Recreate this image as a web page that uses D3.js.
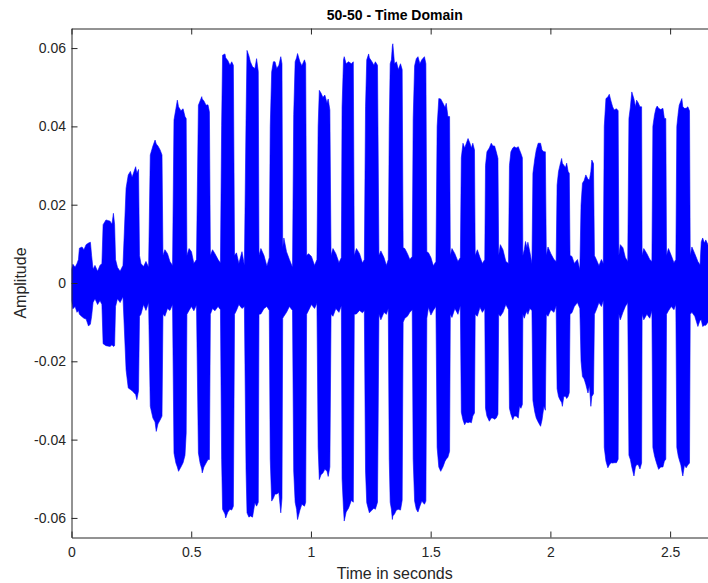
<!DOCTYPE html>
<html>
<head>
<meta charset="utf-8">
<script src="https://cdn.jsdelivr.net/npm/d3@7"></script>
<style>
  html, body { margin: 0; padding: 0; background: #fff; }
  svg { display: block; }
  text { font-family: "Liberation Sans", Arial, Helvetica, sans-serif; }
</style>
</head>
<body>
<svg id="chart" width="708" height="583"></svg>
<script>
// Envelope of the recorded signal: time (s), upper and lower amplitude at each breakpoint
const time = [
  0.000,0.006,0.015,0.023,0.029,0.033,0.044,0.052,0.061,0.071,0.079,0.084,0.090,0.098,0.109,0.119,0.127,
  0.132,0.144,0.161,0.169,0.175,0.180,0.184,0.192,0.203,0.215,
  0.228,0.237,0.246,0.253,0.268,0.273,0.280,0.284,0.290,0.301,0.311,0.322,
  0.329,0.340,0.349,0.354,0.361,0.370,0.378,0.382,0.390,0.401,0.411,0.422,
  0.428,0.436,0.442,0.447,0.457,0.466,0.474,0.479,0.482,0.491,0.501,0.511,0.522,
  0.530,0.537,0.544,0.546,0.553,0.562,0.570,0.576,0.580,0.589,0.599,0.612,0.622,
  0.627,0.631,0.641,0.644,0.653,0.662,0.669,0.676,0.681,0.689,0.699,0.712,0.722,
  0.729,0.733,0.741,0.747,0.756,0.766,0.773,0.780,0.783,0.791,0.804,0.816,0.826,
  0.830,0.836,0.843,0.850,0.857,0.866,0.874,0.879,0.882,0.887,0.898,0.910,0.923,
  0.928,0.934,0.940,0.944,0.954,0.962,0.973,0.978,0.982,0.990,1.002,1.015,1.025,
  1.030,1.035,1.042,1.050,1.058,1.067,1.072,1.079,1.084,1.092,1.104,1.117,1.127,
  1.130,1.136,1.139,1.147,1.157,1.169,1.177,1.181,1.190,1.203,1.215,1.223,
  1.228,1.233,1.241,1.244,1.255,1.263,1.269,1.278,1.284,1.292,1.305,1.315,1.323,
  1.327,1.331,1.336,1.340,1.342,1.349,1.357,1.365,1.374,1.381,1.385,1.392,1.403,1.413,1.423,
  1.427,1.433,1.440,1.447,1.455,1.463,1.474,1.480,1.484,1.491,1.501,1.511,1.522,
  1.527,1.534,1.542,1.551,1.560,1.565,1.572,1.579,1.582,1.589,1.601,1.614,1.624,
  1.628,1.635,1.642,1.648,1.656,1.664,1.670,1.676,1.683,1.686,1.695,1.706,1.716,1.726,
  1.729,1.735,1.745,1.753,1.760,1.767,1.774,1.781,1.784,1.791,1.802,1.814,1.825,
  1.829,1.835,1.843,1.849,1.857,1.866,1.871,1.877,1.883,1.885,1.891,1.896,1.902,1.906,1.914,1.923,
  1.927,1.935,1.941,1.949,1.959,1.965,1.973,1.979,1.983,1.990,2.002,2.015,2.024,
  2.028,2.034,2.040,2.047,2.050,2.056,2.063,2.068,2.074,2.079,2.082,2.090,2.100,2.113,2.123,
  2.128,2.134,2.141,2.148,2.157,2.163,2.169,2.173,2.180,2.184,2.192,2.203,2.213,2.221,
  2.225,2.232,2.240,2.246,2.253,2.260,2.266,2.276,2.283,2.286,2.292,2.303,2.313,2.323,
  2.328,2.334,2.340,2.349,2.355,2.360,2.367,2.374,2.381,2.383,2.390,2.403,2.415,2.424,
  2.428,2.435,2.441,2.446,2.452,2.461,2.470,2.476,2.482,2.485,2.493,2.505,2.516,2.524,
  2.528,2.534,2.538,2.545,2.549,2.553,2.560,2.567,2.574,2.581,2.584,2.591,2.603,2.616,2.625,
  2.630,2.636,2.643,2.649,2.658,2.668
];
const upper = [
  0.0035,0.0048,0.0040,0.0050,0.0060,0.0089,0.0092,0.0085,0.0098,0.0102,0.0104,0.0070,0.0035,0.0045,0.0030,0.0045,0.0050,
  0.0149,0.0161,0.0158,0.0150,0.0178,0.0150,0.0060,0.0040,0.0030,0.0045,
  0.0242,0.0276,0.0285,0.0270,0.0297,0.0280,0.0290,0.0070,0.0050,0.0042,0.0055,0.0040,
  0.0327,0.0350,0.0365,0.0355,0.0350,0.0340,0.0327,0.0070,0.0085,0.0075,0.0055,0.0045,
  0.0416,0.0445,0.0467,0.0450,0.0440,0.0445,0.0425,0.0420,0.0070,0.0088,0.0080,0.0050,0.0060,
  0.0454,0.0465,0.0476,0.0470,0.0465,0.0454,0.0455,0.0437,0.0070,0.0085,0.0075,0.0060,0.0051,
  0.0403,0.0582,0.0585,0.0575,0.0568,0.0556,0.0565,0.0556,0.0070,0.0077,0.0050,0.0080,0.0045,
  0.0420,0.0594,0.0580,0.0565,0.0552,0.0548,0.0573,0.0540,0.0070,0.0088,0.0070,0.0043,0.0065,
  0.0400,0.0539,0.0565,0.0565,0.0548,0.0556,0.0578,0.0560,0.0090,0.0115,0.0080,0.0060,0.0040,
  0.0430,0.0565,0.0575,0.0586,0.0565,0.0555,0.0570,0.0560,0.0070,0.0075,0.0068,0.0045,0.0060,
  0.0400,0.0492,0.0485,0.0474,0.0480,0.0460,0.0470,0.0442,0.0070,0.0088,0.0075,0.0052,0.0065,
  0.0450,0.0570,0.0578,0.0560,0.0565,0.0560,0.0565,0.0070,0.0088,0.0075,0.0051,0.0060,
  0.0450,0.0570,0.0585,0.0575,0.0565,0.0556,0.0565,0.0556,0.0070,0.0082,0.0065,0.0045,0.0060,
  0.0400,0.0560,0.0570,0.0605,0.0611,0.0560,0.0565,0.0545,0.0560,0.0545,0.0090,0.0088,0.0075,0.0060,0.0068,
  0.0420,0.0555,0.0573,0.0578,0.0560,0.0570,0.0578,0.0560,0.0080,0.0077,0.0065,0.0044,0.0055,
  0.0400,0.0471,0.0470,0.0460,0.0448,0.0459,0.0425,0.0425,0.0070,0.0088,0.0075,0.0055,0.0065,
  0.0320,0.0357,0.0345,0.0355,0.0369,0.0357,0.0345,0.0357,0.0340,0.0070,0.0085,0.0065,0.0050,0.0060,
  0.0300,0.0335,0.0345,0.0357,0.0350,0.0350,0.0335,0.0318,0.0070,0.0098,0.0085,0.0055,0.0050,
  0.0300,0.0335,0.0345,0.0348,0.0345,0.0348,0.0340,0.0331,0.0320,0.0070,0.0085,0.0106,0.0090,0.0104,0.0080,0.0050,
  0.0280,0.0318,0.0340,0.0357,0.0357,0.0340,0.0335,0.0335,0.0070,0.0092,0.0075,0.0060,0.0055,
  0.0250,0.0285,0.0301,0.0318,0.0306,0.0301,0.0295,0.0306,0.0285,0.0280,0.0070,0.0068,0.0050,0.0060,0.0034,
  0.0200,0.0255,0.0262,0.0276,0.0265,0.0263,0.0285,0.0314,0.0305,0.0070,0.0060,0.0044,0.0060,0.0050,
  0.0400,0.0471,0.0475,0.0482,0.0465,0.0450,0.0442,0.0445,0.0440,0.0070,0.0098,0.0090,0.0065,0.0055,
  0.0420,0.0449,0.0488,0.0470,0.0450,0.0467,0.0460,0.0450,0.0450,0.0070,0.0088,0.0075,0.0060,0.0055,
  0.0400,0.0430,0.0446,0.0452,0.0446,0.0443,0.0446,0.0420,0.0420,0.0070,0.0088,0.0070,0.0052,0.0060,
  0.0400,0.0435,0.0454,0.0465,0.0471,0.0450,0.0446,0.0446,0.0450,0.0440,0.0070,0.0092,0.0075,0.0055,0.0046,
  0.0105,0.0115,0.0102,0.0110,0.0098,0.0095
];
const lower = [
  -0.0045,-0.0066,-0.0060,-0.0075,-0.0070,-0.0080,-0.0086,-0.0090,-0.0092,-0.0110,-0.0105,-0.0085,-0.0050,-0.0040,-0.0055,-0.0045,-0.0055,
  -0.0155,-0.0160,-0.0162,-0.0158,-0.0162,-0.0160,-0.0060,-0.0040,-0.0050,-0.0035,
  -0.0222,-0.0268,-0.0272,-0.0275,-0.0285,-0.0298,-0.0275,-0.0085,-0.0080,-0.0055,-0.0070,-0.0050,
  -0.0315,-0.0345,-0.0355,-0.0379,-0.0360,-0.0350,-0.0340,-0.0080,-0.0085,-0.0065,-0.0070,-0.0055,
  -0.0434,-0.0460,-0.0470,-0.0481,-0.0470,-0.0459,-0.0440,-0.0383,-0.0080,-0.0070,-0.0060,-0.0071,-0.0056,
  -0.0434,-0.0460,-0.0475,-0.0485,-0.0470,-0.0460,-0.0451,-0.0451,-0.0080,-0.0065,-0.0071,-0.0060,-0.0068,
  -0.0450,-0.0578,-0.0590,-0.0600,-0.0585,-0.0578,-0.0580,-0.0570,-0.0080,-0.0070,-0.0055,-0.0065,-0.0060,
  -0.0480,-0.0587,-0.0598,-0.0595,-0.0598,-0.0561,-0.0570,-0.0560,-0.0080,-0.0079,-0.0065,-0.0060,-0.0070,
  -0.0450,-0.0557,-0.0550,-0.0539,-0.0539,-0.0535,-0.0587,-0.0550,-0.0090,-0.0085,-0.0075,-0.0060,-0.0070,
  -0.0480,-0.0560,-0.0578,-0.0604,-0.0580,-0.0565,-0.0570,-0.0560,-0.0080,-0.0070,-0.0055,-0.0065,-0.0052,
  -0.0420,-0.0502,-0.0490,-0.0485,-0.0476,-0.0480,-0.0494,-0.0470,-0.0080,-0.0085,-0.0065,-0.0075,-0.0058,
  -0.0500,-0.0578,-0.0608,-0.0585,-0.0575,-0.0555,-0.0560,-0.0080,-0.0079,-0.0070,-0.0076,-0.0070,
  -0.0480,-0.0561,-0.0580,-0.0587,-0.0580,-0.0575,-0.0578,-0.0560,-0.0080,-0.0094,-0.0075,-0.0080,-0.0065,
  -0.0450,-0.0560,-0.0578,-0.0604,-0.0595,-0.0590,-0.0580,-0.0578,-0.0580,-0.0555,-0.0100,-0.0090,-0.0085,-0.0075,-0.0068,
  -0.0450,-0.0557,-0.0578,-0.0585,-0.0570,-0.0557,-0.0565,-0.0557,-0.0090,-0.0062,-0.0082,-0.0070,-0.0060,
  -0.0420,-0.0470,-0.0481,-0.0470,-0.0455,-0.0450,-0.0445,-0.0430,-0.0080,-0.0088,-0.0065,-0.0080,-0.0058,
  -0.0330,-0.0350,-0.0362,-0.0355,-0.0357,-0.0355,-0.0357,-0.0340,-0.0332,-0.0080,-0.0085,-0.0062,-0.0075,-0.0065,
  -0.0320,-0.0340,-0.0353,-0.0345,-0.0345,-0.0348,-0.0345,-0.0335,-0.0080,-0.0085,-0.0075,-0.0055,-0.0068,
  -0.0320,-0.0335,-0.0349,-0.0340,-0.0340,-0.0345,-0.0315,-0.0320,-0.0310,-0.0080,-0.0090,-0.0080,-0.0072,-0.0080,-0.0065,-0.0070,
  -0.0300,-0.0330,-0.0345,-0.0355,-0.0366,-0.0350,-0.0315,-0.0325,-0.0080,-0.0085,-0.0068,-0.0075,-0.0058,
  -0.0270,-0.0290,-0.0298,-0.0305,-0.0315,-0.0290,-0.0289,-0.0295,-0.0290,-0.0280,-0.0080,-0.0076,-0.0060,-0.0050,-0.0065,
  -0.0200,-0.0239,-0.0245,-0.0259,-0.0281,-0.0262,-0.0315,-0.0290,-0.0283,-0.0080,-0.0068,-0.0050,-0.0060,-0.0045,
  -0.0420,-0.0455,-0.0472,-0.0465,-0.0459,-0.0460,-0.0459,-0.0459,-0.0450,-0.0080,-0.0094,-0.0075,-0.0060,-0.0050,
  -0.0440,-0.0451,-0.0470,-0.0493,-0.0470,-0.0464,-0.0464,-0.0475,-0.0460,-0.0080,-0.0094,-0.0080,-0.0090,-0.0071,
  -0.0420,-0.0442,-0.0455,-0.0465,-0.0476,-0.0470,-0.0470,-0.0455,-0.0450,-0.0080,-0.0071,-0.0060,-0.0068,-0.0055,
  -0.0420,-0.0442,-0.0451,-0.0465,-0.0480,-0.0493,-0.0465,-0.0472,-0.0465,-0.0460,-0.0080,-0.0075,-0.0085,-0.0111,-0.0095,
  -0.0094,-0.0111,-0.0108,-0.0108,-0.0100,-0.0100
];

const xTicks = [0, 0.5, 1, 1.5, 2, 2.5];
const xTickLabels = ["0", "0.5", "1", "1.5", "2", "2.5"];
const yTicks = [-0.06, -0.04, -0.02, 0, 0.02, 0.04, 0.06];
const yTickLabels = ["-0.06", "-0.04", "-0.02", "0", "0.02", "0.04", "0.06"];

const titleText = "50-50 - Time Domain";
const xLabelText = "Time in seconds";
const yLabelText = "Amplitude";

// Layout
const svg = d3.select("#chart");
const plot = { left: 71.5, top: 28.5, right: 718, bottom: 537.5 };

const x = d3.scaleLinear().domain([0, 2.7]).range([plot.left, plot.right]);
const y = d3.scaleLinear().domain([-0.065, 0.065]).range([plot.bottom, plot.top]);

const axisColor = "#262626";

// Signal
svg.append("defs").append("clipPath").attr("id", "plotClip")
  .append("rect")
  .attr("x", plot.left).attr("y", plot.top)
  .attr("width", plot.right - plot.left).attr("height", plot.bottom - plot.top);

const samples = time.map((t, i) => ({ t, hi: upper[i], lo: lower[i] }));

const area = d3.area()
  .x(d => x(d.t))
  .y0(d => y(d.lo))
  .y1(d => y(d.hi))
  .curve(d3.curveLinear);

svg.append("path")
  .datum(samples)
  .attr("clip-path", "url(#plotClip)")
  .attr("fill", "#0000ff")
  .attr("stroke", "#0000ff")
  .attr("stroke-width", 0.6)
  .attr("stroke-linejoin", "miter")
  .attr("d", area);

// Axes (ticks point into the plot, box drawn on all four sides)
function styleAxis(g) {
  g.selectAll(".domain").attr("stroke", axisColor).attr("stroke-width", 1);
  g.selectAll(".tick line").attr("stroke", axisColor).attr("stroke-width", 1);
  g.selectAll(".tick text")
    .attr("fill", axisColor)
    .style("font-family", '"Liberation Sans", Arial, Helvetica, sans-serif')
    .style("font-size", "14px");
}

svg.append("g")
  .attr("transform", `translate(0,${plot.bottom})`)
  .call(d3.axisBottom(x).tickValues(xTicks).tickFormat((d, i) => xTickLabels[i])
    .tickSizeInner(-6).tickSizeOuter(0).tickPadding(10))
  .call(styleAxis);

svg.append("g")
  .attr("transform", `translate(0,${plot.top})`)
  .call(d3.axisTop(x).tickValues(xTicks).tickFormat("")
    .tickSizeInner(-6).tickSizeOuter(0))
  .call(styleAxis);

svg.append("g")
  .attr("transform", `translate(${plot.left},0)`)
  .call(d3.axisLeft(y).tickValues(yTicks).tickFormat((d, i) => yTickLabels[i])
    .tickSizeInner(-6).tickSizeOuter(0).tickPadding(5.5))
  .call(styleAxis);

svg.append("g")
  .attr("transform", `translate(${plot.right},0)`)
  .call(d3.axisRight(y).tickValues(yTicks).tickFormat("")
    .tickSizeInner(-6).tickSizeOuter(0))
  .call(styleAxis);

// Titles
svg.append("text")
  .attr("x", (plot.left + plot.right) / 2)
  .attr("y", 20)
  .attr("text-anchor", "middle")
  .attr("fill", "#000")
  .style("font-size", "14px")
  .style("font-weight", "bold")
  .text(titleText);

svg.append("text")
  .attr("x", (plot.left + plot.right) / 2)
  .attr("y", 579)
  .attr("text-anchor", "middle")
  .attr("fill", axisColor)
  .style("font-size", "16px")
  .text(xLabelText);

svg.append("text")
  .attr("transform", `translate(25.5,${y(0)}) rotate(-90)`)
  .attr("text-anchor", "middle")
  .attr("fill", axisColor)
  .style("font-size", "16px")
  .text(yLabelText);
</script>
</body>
</html>
